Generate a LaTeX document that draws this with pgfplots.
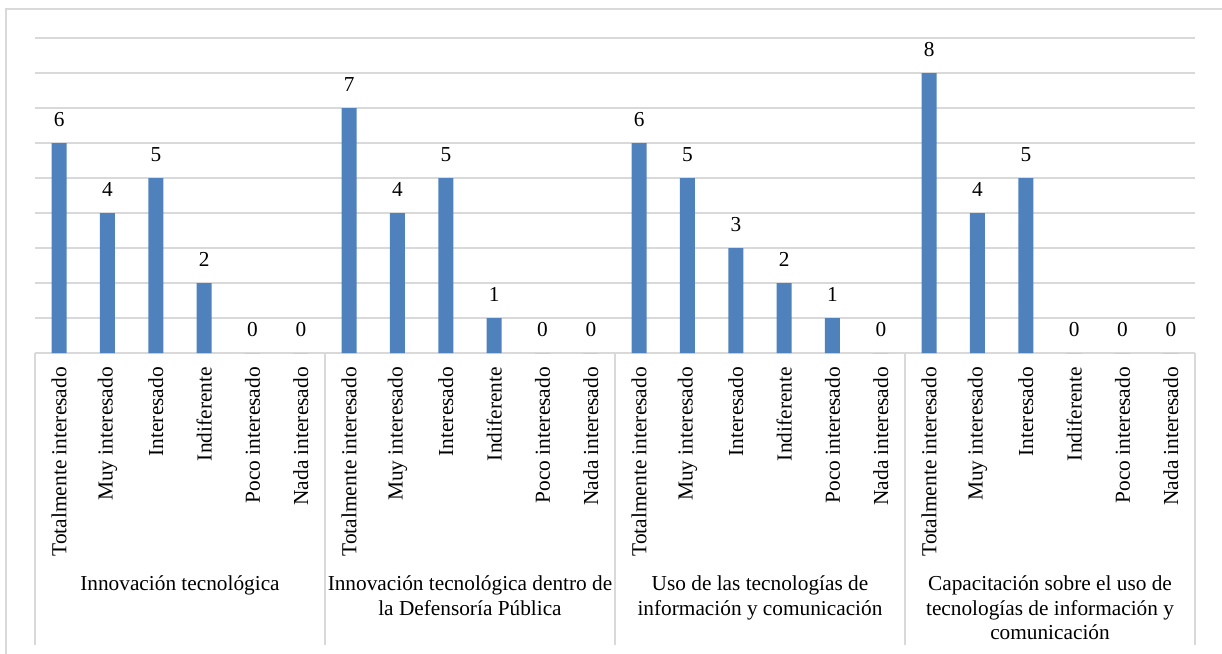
\documentclass[border=0pt]{standalone}
\usepackage{fontspec}
\setmainfont{Liberation Serif}
\usepackage{pgfplots}
\pgfplotsset{compat=1.18}
\definecolor{barblue}{HTML}{4F81BD}
\definecolor{gridgray}{HTML}{D9D9D9}
\begin{document}
\begin{tikzpicture}
\useasboundingbox (0,0) rectangle (1222bp,654bp);
% chart frame (top and left edges)
\draw[gridgray, line width=1.3bp] (6bp,0) -- (6bp,645bp) -- (1222bp,645bp);
\begin{axis}[
  at={(35bp,301bp)}, anchor=south west,
  scale only axis, width=1160bp, height=315bp,
  xmin=-0.5, xmax=23.5, ymin=0, ymax=9,
  ybar, bar width=15bp,
  clip=false,
  axis x line*=bottom, axis y line*=left,
  x axis line style={draw=gridgray, line width=1.3bp},
  y axis line style={draw=none},
  major tick length=0pt,
  ytick={0,...,9}, yticklabels={},
  ymajorgrids, grid style={draw=gridgray, line width=1.3bp},
  xtick={0,...,23},
  xticklabels={Totalmente interesado, Muy interesado, Interesado, Indiferente, Poco interesado, Nada interesado,
               Totalmente interesado, Muy interesado, Interesado, Indiferente, Poco interesado, Nada interesado,
               Totalmente interesado, Muy interesado, Interesado, Indiferente, Poco interesado, Nada interesado,
               Totalmente interesado, Muy interesado, Interesado, Indiferente, Poco interesado, Nada interesado},
  xticklabel style={rotate=90, anchor=east, inner sep=0pt, font=\fontsize{21.4bp}{25bp}\selectfont},
  xticklabel shift=14bp,
  /pgf/number format/assume math mode=true,
  nodes near coords,
  every node near coord/.append style={anchor=base, inner sep=0pt, yshift=17bp, text=black,
      font=\fontsize{21.3bp}{25bp}\selectfont},
]
\addplot[fill=barblue, draw=none] coordinates {
  (0,6) (1,4) (2,5) (3,2) (4,0) (5,0)
  (6,7) (7,4) (8,5) (9,1) (10,0) (11,0)
  (12,6) (13,5) (14,3) (15,2) (16,1) (17,0)
  (18,8) (19,4) (20,5) (21,0) (22,0) (23,0)
};
% group separators below the category axis
\draw[gridgray, line width=1.3bp] (axis cs:-0.5,0) -- ([yshift=-292bp]axis cs:-0.5,0);
\draw[gridgray, line width=1.3bp] (axis cs:5.5,0) -- ([yshift=-292bp]axis cs:5.5,0);
\draw[gridgray, line width=1.3bp] (axis cs:11.5,0) -- ([yshift=-292bp]axis cs:11.5,0);
\draw[gridgray, line width=1.3bp] (axis cs:17.5,0) -- ([yshift=-292bp]axis cs:17.5,0);
\draw[gridgray, line width=1.3bp] (axis cs:23.5,0) -- ([yshift=-292bp]axis cs:23.5,0);
% group names
\tikzset{grp/.style={anchor=north, align=center, inner sep=0pt,
  font=\fontsize{21.3bp}{24.5bp}\selectfont}}
\node[grp] at ([yshift=-220.5bp]axis cs:2.5,0) {\strut Innovación tecnológica};
\node[grp] at ([yshift=-220.5bp]axis cs:8.5,0) {\strut Innovación tecnológica dentro de\\la Defensoría Pública};
\node[grp] at ([yshift=-220.5bp]axis cs:14.5,0) {\strut Uso de las tecnologías de\\información y comunicación};
\node[grp] at ([yshift=-220.5bp]axis cs:20.5,0) {\strut Capacitación sobre el uso de\\tecnologías de información y\\comunicación};
\end{axis}
\end{tikzpicture}
\end{document}
